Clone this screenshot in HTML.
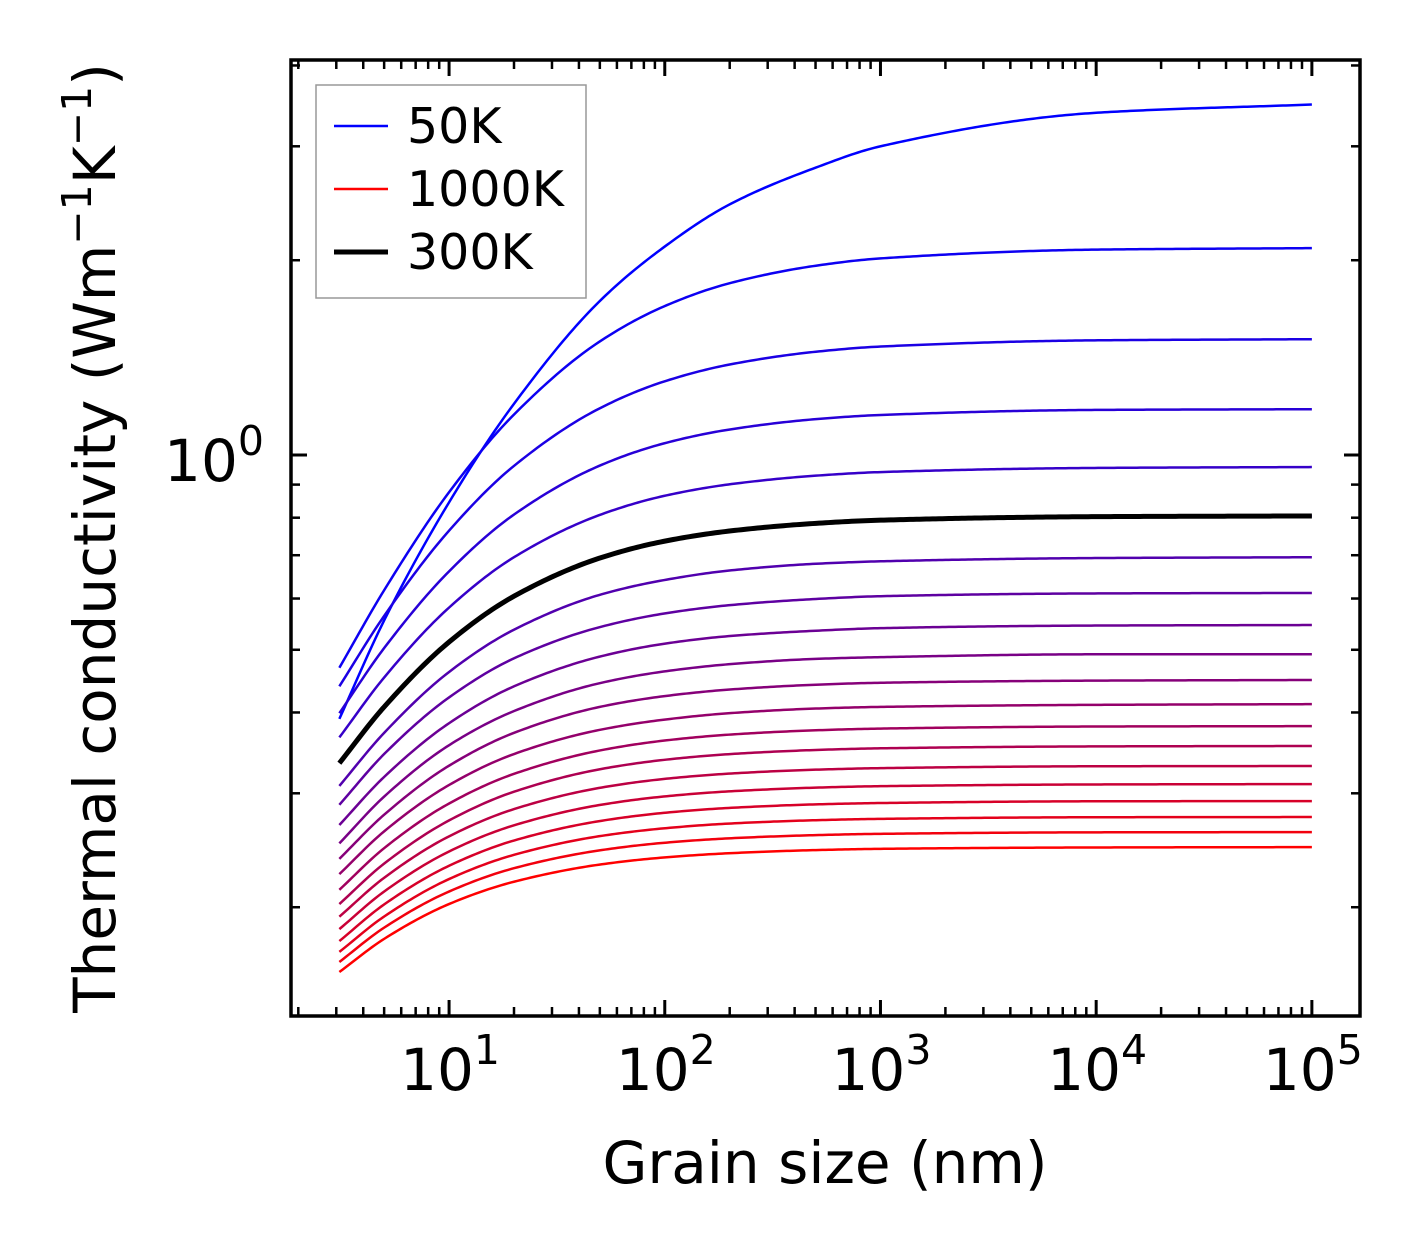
<!DOCTYPE html>
<html><head><meta charset="utf-8"><style>
body{margin:0;background:#fff}
svg{display:block}
text{font-family:"DejaVu Sans","Liberation Sans",sans-serif;fill:#000}
</style></head><body>
<svg id="chart" width="1421" height="1254" viewBox="0 0 1421 1254" xmlns="http://www.w3.org/2000/svg">
<rect width="1421" height="1254" fill="#fff"/>
<g id="series"></g>
<g id="ticks"></g>
<rect x="291" y="60" width="1069" height="956" fill="none" stroke="#000" stroke-width="3.5"/>
<g id="xlabels"></g>
<text x="214" y="481" font-size="58" text-anchor="middle">10<tspan dy="-26" font-size="41">0</tspan></text>
<text x="825" y="1183" font-size="58" text-anchor="middle">Grain size (nm)</text>
<text transform="translate(115,538) rotate(-90)" font-size="58" text-anchor="middle">Thermal conductivity (Wm<tspan dy="-24" font-size="41">−1</tspan><tspan dy="24">K</tspan><tspan dy="-24" font-size="41">−1</tspan><tspan dy="24">)</tspan></text>
<g>
<rect x="316" y="85" width="270" height="213" fill="#fff" fill-opacity="0.8" stroke="#999" stroke-width="1.5"/>
<line x1="334" y1="126" x2="388" y2="126" stroke="#0000ff" stroke-width="2.5"/>
<text x="407" y="143" font-size="49">50K</text>
<line x1="334" y1="189" x2="388" y2="189" stroke="#ff0000" stroke-width="2.5"/>
<text x="407" y="206" font-size="49">1000K</text>
<line x1="334" y1="252" x2="388" y2="252" stroke="#000" stroke-width="5"/>
<text x="407" y="269" font-size="49">300K</text>
</g>
</svg>
<script>
const grainSizes = [3.1, 5, 10, 20, 50, 100, 200, 500, 1000, 10000, 100000];
const temperatures = [50,100,150,200,250,300,350,400,450,500,550,600,650,700,750,800,850,900,950,1000];
const k50 = [0.391,0.555,0.845,1.200,1.730,2.100,2.440,2.780,3.000,3.380,3.481];
const k100 = [0.469,0.618,0.876,1.155,1.498,1.699,1.843,1.961,2.013,2.077,2.088];
const k150 = [0.439,0.564,0.764,0.962,1.181,1.300,1.380,1.444,1.471,1.504,1.510];
const k200 = [0.399,0.503,0.661,0.809,0.963,1.043,1.095,1.136,1.153,1.174,1.177];
const k250 = [0.366,0.453,0.581,0.695,0.808,0.865,0.901,0.929,0.941,0.955,0.958];
const k300 = [0.334,0.408,0.514,0.605,0.693,0.736,0.763,0.784,0.793,0.803,0.805];
const k350 = [0.308,0.372,0.462,0.537,0.608,0.641,0.663,0.679,0.685,0.693,0.695];
const k400 = [0.288,0.345,0.422,0.485,0.542,0.569,0.586,0.599,0.605,0.611,0.612];
const k450 = [0.268,0.318,0.385,0.439,0.488,0.511,0.525,0.535,0.540,0.545,0.546];
const k500 = [0.251,0.2965,0.356,0.402,0.444,0.463,0.475,0.484,0.487,0.492,0.492];
const k550 = [0.2376,0.278,0.331,0.372,0.408,0.424,0.434,0.4415,0.4446,0.448,0.449];
const k600 = [0.225,0.262,0.309,0.345,0.376,0.390,0.399,0.4056,0.408,0.411,0.412];
const k650 = [0.2128,0.2468,0.2893,0.3215,0.3494,0.362,0.3697,0.3754,0.3777,0.3805,0.381];
const k700 = [0.2023,0.2336,0.2724,0.3017,0.3268,0.338,0.3449,0.350,0.3521,0.3545,0.355];
const k750 = [0.1934,0.2221,0.2574,0.2836,0.3059,0.3158,0.3218,0.3263,0.3281,0.3303,0.3306];
const k800 = [0.185,0.2115,0.2439,0.2677,0.2878,0.2967,0.3021,0.3061,0.3077,0.3096,0.310];
const k850 = [0.1773,0.202,0.2318,0.2536,0.2718,0.2799,0.2848,0.2884,0.2898,0.2916,0.2918];
const k900 = [0.1706,0.1935,0.2211,0.241,0.2576,0.2649,0.2694,0.2726,0.2739,0.2755,0.2757];
const k950 = [0.1646,0.186,0.2115,0.2298,0.2449,0.2516,0.2556,0.2585,0.2597,0.2611,0.2613];
const k1000 = [0.1588,0.1787,0.2023,0.219,0.2328,0.2388,0.2424,0.2451,0.2462,0.2474,0.2477];
const seriesValues = [k50,k100,k150,k200,k250,k300,k350,k400,k450,k500,k550,k600,k650,k700,k750,k800,k850,k900,k950,k1000];
const highlightTemp = 300;
const xTickLabels = ["1","2","3","4","5"];

const NS = "http://www.w3.org/2000/svg";
const X0 = 291, X1 = 1360, Y0 = 60, Y1 = 1016;
const xLogMin = Math.log10(1.85), xLogMax = Math.log10(1.85) + (X1 - X0) / 215.7;
const yLogMax = (455 - Y0) / 647, yLogMin = (455 - Y1) / 647;
function xScale(v){ return X0 + (Math.log10(v) - xLogMin) / (xLogMax - xLogMin) * (X1 - X0); }
function yScale(v){ return Y0 + (yLogMax - Math.log10(v)) / (yLogMax - yLogMin) * (Y1 - Y0); }

function monotone(xs, ys){
  const n = xs.length, d = [], m = new Array(n);
  for (let i = 0; i < n-1; i++) d.push((ys[i+1]-ys[i])/(xs[i+1]-xs[i]));
  m[0] = d[0]; m[n-1] = d[n-2];
  for (let i = 1; i < n-1; i++){
    if (d[i-1]*d[i] <= 0) m[i] = 0;
    else {
      const h0 = xs[i]-xs[i-1], h1 = xs[i+1]-xs[i];
      const w1 = 2*h1+h0, w2 = h1+2*h0;
      m[i] = (w1+w2)/(w1/d[i-1]+w2/d[i]);
    }
  }
  return function(x){
    let i = 0; while (i < n-2 && x > xs[i+1]) i++;
    const h = xs[i+1]-xs[i], t = (x-xs[i])/h;
    const t2 = t*t, t3 = t2*t;
    return (2*t3-3*t2+1)*ys[i] + (t3-2*t2+t)*h*m[i] + (-2*t3+3*t2)*ys[i+1] + (t3-t2)*h*m[i+1];
  };
}

function seriesPath(vals){
  const lx = grainSizes.map(g => Math.log10(g));
  const ly = vals.map(v => Math.log10(v));
  const f = monotone(lx, ly);
  const N = 300;
  let d = "";
  for (let k = 0; k <= N; k++){
    const x = lx[0] + (lx[lx.length-1]-lx[0]) * k / N;
    const px = xScale(Math.pow(10, x)), py = yScale(Math.pow(10, f(x)));
    d += (k ? " L" : "M") + px.toFixed(2) + "," + py.toFixed(2);
  }
  return d;
}

const sg = document.getElementById("series");
const n = temperatures.length;
let hiPath = null;
temperatures.forEach((T, i) => {
  const d = seriesPath(seriesValues[i]);
  const t = i / (n - 1);
  const p = document.createElementNS(NS, "path");
  p.setAttribute("d", d);
  p.setAttribute("fill", "none");
  p.setAttribute("stroke", "rgb(" + Math.round(255*t) + ",0," + Math.round(255*(1-t)) + ")");
  p.setAttribute("stroke-width", "2.5");
  p.setAttribute("stroke-linejoin", "round");
  
  
  sg.appendChild(p);
  if (T === highlightTemp){
    hiPath = document.createElementNS(NS, "path");
    hiPath.setAttribute("d", d);
    hiPath.setAttribute("fill", "none");
    hiPath.setAttribute("stroke", "#000");
    hiPath.setAttribute("stroke-width", "5");
    hiPath.setAttribute("stroke-linejoin", "round");
    
    
  }
});
if (hiPath) sg.appendChild(hiPath);

const tg = document.getElementById("ticks");
function tick(x1,y1,x2,y2,w){
  const l = document.createElementNS(NS, "line");
  l.setAttribute("x1",x1); l.setAttribute("y1",y1); l.setAttribute("x2",x2); l.setAttribute("y2",y2);
  l.setAttribute("stroke","#000"); l.setAttribute("stroke-width",w);
  
  
  tg.appendChild(l);
}
for (let e = 0; e <= 5; e++){
  for (let m = 1; m <= 9; m++){
    const v = m * Math.pow(10, e);
    const x = xScale(v);
    if (x < X0 + 2 || x > X1 - 2) continue;
    const L = m === 1 ? 16 : 9;
    tick(x, Y1, x, Y1 - L, m === 1 ? 3 : 2.5);
    tick(x, Y0, x, Y0 + L, m === 1 ? 3 : 2.5);
  }
}
for (let e = -1; e <= 0; e++){
  for (let m = 1; m <= 9; m++){
    const v = m * Math.pow(10, e);
    const y = yScale(v);
    if (y < Y0 + 2 || y > Y1 - 2) continue;
    const L = m === 1 ? 16 : 9;
    tick(X0, y, X0 + L, y, m === 1 ? 3 : 2.5);
    tick(X1, y, X1 - L, y, m === 1 ? 3 : 2.5);
  }
}
const xl = document.getElementById("xlabels");
xTickLabels.forEach(s => {
  const v = Math.pow(10, +s);
  const t = document.createElementNS(NS, "text");
  t.setAttribute("x", xScale(v) + 1);
  t.setAttribute("y", 1090);
  t.setAttribute("font-size", "58");
  t.setAttribute("text-anchor", "middle");
  
  
  t.innerHTML = '10<tspan dy="-26" font-size="41">' + s + '</tspan>';
  xl.appendChild(t);
});
</script>
</body></html>
